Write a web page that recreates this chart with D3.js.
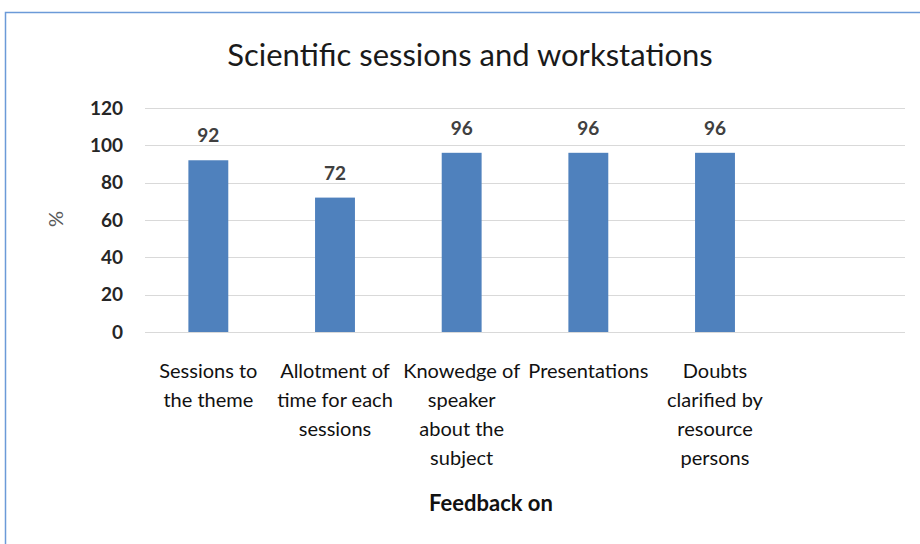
<!DOCTYPE html>
<html>
<head>
<meta charset="utf-8">
<script src="https://cdn.jsdelivr.net/npm/d3@7"></script>
<style>
  body { margin: 0; background: #fff; }
  svg { display: block; font-family: Lato, "Open Sans", sans-serif; }
</style>
</head>
<body>
<script>
// chart data
var categories = ["Sessions to the theme", "Allotment of time for each sessions",
    "Knowedge of speaker about the subject", "Presentations",
    "Doubts clarified by resource persons", ""];
var values = [92, 72, 96, 96, 96];
var tickLabels = [
    ["Sessions to", "the theme"],
    ["Allotment of", "time for each", "sessions"],
    ["Knowedge of", "speaker", "about the", "subject"],
    ["Presentations"],
    ["Doubts", "clarified by", "resource", "persons"],
    []
];
var yTicks = [0, 20, 40, 60, 80, 100, 120];

var W = 920, H = 544;
var margin = {top: 108, right: 15, bottom: 212, left: 145},
    width = W - margin.left - margin.right,
    height = H - margin.top - margin.bottom;

var svg = d3.select("body").append("svg")
    .attr("width", W)
    .attr("height", H);

// outer frame
svg.append("rect")
    .attr("x", 5.5).attr("y", 12.5)
    .attr("width", W + 20).attr("height", H + 20)
    .attr("fill", "none")
    .attr("stroke", "#6b9ad8")
    .attr("stroke-width", 1.5);

var g = svg.append("g")
    .attr("transform", "translate(" + margin.left + "," + margin.top + ")");

var x = d3.scaleBand().domain(categories).range([0, width]).paddingInner(0.685).paddingOuter(0.3425);
var y = d3.scaleLinear().domain([0, 120]).range([height, 0]);

// gridlines
g.selectAll(".grid").data(yTicks).enter().append("line")
    .attr("x1", 0).attr("x2", width)
    .attr("y1", function(d){ return Math.round(y(d)) + 0.5; })
    .attr("y2", function(d){ return Math.round(y(d)) + 0.5; })
    .attr("stroke", "#d9d9d9");

// y axis labels
var yAxis = d3.axisLeft(y).tickValues(yTicks).tickSize(0).tickPadding(22);
g.append("g").call(yAxis)
    .call(function(a){ a.select(".domain").remove(); })
    .selectAll("text")
    .style("font-size", "19px")
    .style("font-weight", "bold")
    .style("font-family", "Lato, sans-serif")
    .attr("fill", "#262626");

// bars
g.selectAll(".bar").data(values).enter().append("rect")
    .attr("x", function(d, i){ return x(categories[i]); })
    .attr("y", function(d){ return y(d); })
    .attr("width", x.bandwidth())
    .attr("height", function(d){ return height - y(d); })
    .attr("fill", "#4f81bd");

// data labels
g.selectAll(".val").data(values).enter().append("text")
    .attr("x", function(d, i){ return x(categories[i]) + x.bandwidth() / 2; })
    .attr("y", function(d){ return y(d) - 18; })
    .attr("text-anchor", "middle")
    .style("font-size", "19px")
    .style("font-weight", "bold")
    .attr("fill", "#404040")
    .text(function(d){ return d; });

// category labels
var xl = g.selectAll(".xl").data(categories).enter().append("text")
    .attr("text-anchor", "middle")
    .attr("transform", function(d){ return "translate(" + (x(d) + x.bandwidth() / 2) + "," + (height + 46) + ")"; })
    .style("font-size", "20px")
    .attr("fill", "#111");
xl.each(function(d, i){
    var t = d3.select(this);
    tickLabels[i].forEach(function(line, j){
        t.append("tspan").attr("x", 0).attr("y", j * 29).text(line);
    });
});

// title
svg.append("text")
    .attr("x", 470).attr("y", 66)
    .attr("text-anchor", "middle")
    .style("font-size", "31px")
    .style("font-weight", 400)
    .attr("fill", "#1a1a1a")
    .text("Scientific sessions and workstations");

// axis titles
svg.append("text")
    .attr("x", 491).attr("y", 511)
    .attr("text-anchor", "middle")
    .style("font-size", "22px")
    .style("font-weight", "bold")
    .attr("fill", "#111")
    .text("Feedback on");

svg.append("text")
    .attr("transform", "translate(63,219) rotate(-90)")
    .attr("text-anchor", "middle")
    .style("font-size", "20px")
    .attr("fill", "#595959")
    .text("%");
</script>
</body>
</html>
